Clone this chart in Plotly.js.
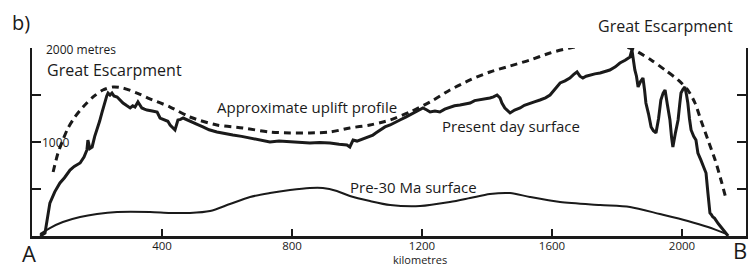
<!DOCTYPE html>
<html>
<head>
<meta charset="utf-8">
<script src="https://cdn.plot.ly/plotly-3.0.1.min.js"></script>
<style>html,body{margin:0;padding:0;background:#fff;}#chart{width:748px;height:268px;}</style>
</head>
<body>
<div id="chart"></div>
<script>
// Present day surface (km, metres)
const presentKm = [25,40,55,70,86,100,117,130,148,160,169,172,178,185,193,200,208,215,220,225,230,234,240,246,252,262,270,280,290,302,310,317,326,332,338,346,354,370,385,394,409,418,425,433,440,449,457,465,480,495,510,526,545,569,590,618,645,671,700,732,760,794,825,855,885,917,945,969,978,988,1000,1009,1020,1031,1049,1060,1071,1086,1102,1118,1132,1150,1163,1185,1203,1215,1225,1240,1255,1270,1286,1300,1317,1330,1348,1362,1378,1395,1409,1420,1431,1440,1446,1455,1463,1471,1485,1502,1515,1532,1548,1563,1580,1594,1610,1625,1640,1655,1667,1677,1686,1695,1705,1717,1732,1748,1763,1778,1795,1809,1825,1840,1846,1851,1855,1860,1865,1872,1880,1885,1889,1897,1905,1912,1920,1928,1935,1942,1948,1955,1963,1968,1972,1980,1988,1993,1997,2003,2009,2014,2018,2023,2028,2036,2043,2049,2054,2058,2066,2074,2080,2086,2090,2095,2100,2105,2112,2120,2128,2135,2142];
const presentM  = [0,30,350,470,564,620,702,740,777,840,915,1021,930,947,1060,1128,1220,1309,1380,1447,1490,1521,1500,1521,1490,1479,1450,1415,1390,1362,1385,1372,1426,1400,1362,1350,1340,1330,1319,1255,1234,1220,1181,1150,1128,1234,1240,1255,1230,1202,1185,1160,1130,1106,1090,1074,1060,1043,1020,1000,1010,1000,995,989,995,989,975,968,947,1021,1010,1021,1040,1053,1074,1100,1128,1160,1181,1205,1234,1265,1287,1330,1362,1340,1319,1330,1319,1350,1372,1385,1394,1405,1415,1440,1447,1455,1468,1480,1500,1470,1415,1362,1330,1309,1340,1362,1390,1415,1430,1447,1470,1500,1560,1628,1650,1681,1720,1745,1700,1681,1700,1713,1725,1734,1750,1766,1800,1840,1870,1904,1979,1850,1766,1700,1585,1640,1681,1550,1415,1300,1160,1120,1096,1250,1447,1520,1553,1400,1234,1050,947,1100,1234,1400,1521,1560,1585,1500,1415,1250,1128,1060,1021,883,850,809,740,670,450,245,230,202,190,170,130,96,60,32,0];

// Approximate uplift profile
const upliftKm = [65,80,95,111,132,157,188,218,249,280,323,357,425,486,569,649,732,794,855,917,978,1040,1080,1102,1163,1225,1286,1348,1409,1471,1532,1594,1655,1717,1778,1818,1840,1865,1905,1948,1988,2018,2040,2058,2080,2102,2120,2135];
const upliftM  = [681,883,1021,1149,1266,1372,1479,1553,1585,1574,1521,1468,1372,1266,1181,1149,1106,1096,1096,1106,1149,1181,1213,1234,1319,1426,1553,1660,1745,1809,1872,1947,2000,2032,2040,2020,2000,1957,1872,1766,1660,1553,1415,1234,1021,809,596,404];

// Pre-30 Ma surface
const pre30Km = [25,55,95,148,200,262,363,425,486,548,609,671,732,794,855,895,938,978,1040,1102,1194,1286,1348,1409,1471,1532,1625,1748,1840,1932,2018,2080,2138];
const pre30M  = [21,85,149,202,234,255,255,245,245,266,340,415,457,489,511,511,479,426,372,330,319,362,404,447,457,415,362,330,309,234,160,96,21];

const xTicks = [400,800,1200,1600,2000];
const yTicks = [0,500,1000,1500,2000];

const FONT = '"Open Sans", "Liberation Sans", sans-serif';
const INK = '#1a1a1a';

const traces = [
  {x: pre30Km, y: pre30M, type:'scatter', mode:'lines', name:'Pre-30 Ma surface', cliponaxis:false,
   line:{color:INK, width:2, shape:'spline', smoothing:0.8}},
  {x: upliftKm, y: upliftM, type:'scatter', mode:'lines', name:'Approximate uplift profile', cliponaxis:false,
   line:{color:INK, width:3, dash:'7px,5px', shape:'spline', smoothing:0.8}},
  {x: presentKm, y: presentM, type:'scatter', mode:'lines', name:'Present day surface', cliponaxis:false,
   line:{color:INK, width:3}}
];

// positions in paper units: x=(px-32)/714, y=(236-py)/188
const ann = (text, x, y, size, xanchor) => ({
  text, x, y, xref:'paper', yref:'paper', showarrow:false, borderpad:0,
  xanchor: xanchor||'left', yanchor:'middle', font:{family:FONT, size, color:INK}
});

const layout = {
  width:748, height:268,
  margin:{l:32, r:2, t:48, b:32},
  paper_bgcolor:'#fff', plot_bgcolor:'#fff',
  showlegend:false,
  xaxis:{range:[0,2197], tickvals:xTicks, ticks:'inside', ticklen:7, tickwidth:2, tickcolor:INK,
    showline:true, linecolor:INK, linewidth:2.5, showgrid:false, zeroline:false,
    ticklabelstandoff:-2, tickfont:{family:FONT, size:11.5, color:INK}},
  yaxis:{range:[0,2000], tickvals:yTicks, ticks:'inside', ticklen:9, tickwidth:2, tickcolor:INK,
    showline:true, linecolor:INK, linewidth:2.5, mirror:'ticks', showgrid:false, zeroline:false,
    showticklabels:false},
  annotations:[
    ann('b)', -0.03, 1.138, 20),
    ann('2000 metres', 0.018, 0.992, 12),
    ann('1000', 0.013, 0.495, 12),
    ann('Great Escarpment', 0.020, 0.885, 16),
    ann('Great Escarpment', 0.792, 1.117, 16),
    ann('Approximate uplift profile', 0.258, 0.686, 15),
    ann('Present day surface', 0.573, 0.585, 15),
    ann('Pre-30 Ma surface', 0.444, 0.26, 15),
    ann('kilometres', 0.543, -0.126, 11, 'center'),
    ann('A', -0.016, -0.09, 22),
    ann('B', 1.003, -0.075, 22, 'right')
  ]
};

Plotly.newPlot('chart', traces, layout, {staticPlot:true, displayModeBar:false});
</script>
</body>
</html>
